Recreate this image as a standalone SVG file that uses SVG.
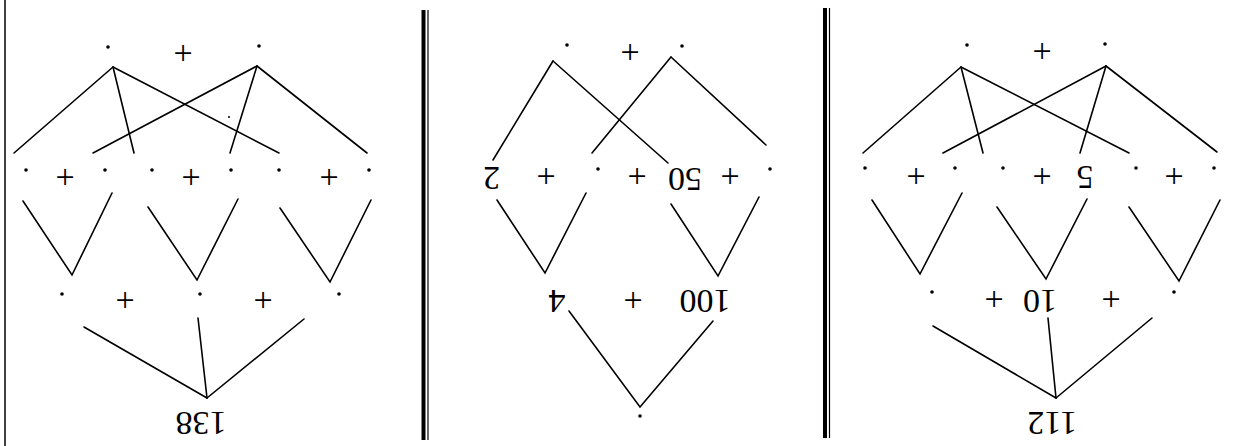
<svg xmlns="http://www.w3.org/2000/svg" width="1236" height="446" viewBox="0 0 1236 446">
<style>
  .e{stroke:#000;stroke-width:1.6;fill:none;stroke-linecap:round}
  .t{font-family:"Liberation Serif","Times New Roman",serif;font-size:34px;fill:#000;text-anchor:middle}
  .d{fill:#000}
</style>
<rect width="1236" height="446" fill="#fff"/>
<g id="borders">
  <line x1="5" y1="0" x2="5" y2="446" stroke="#000" stroke-width="1.5"/>
  <line x1="423.5" y1="10" x2="423.5" y2="440" stroke="#000" stroke-width="4"/>
  <line x1="428" y1="10" x2="428" y2="440" stroke="#000" stroke-width="1.2"/>
  <line x1="825" y1="8" x2="825" y2="438" stroke="#000" stroke-width="4"/>
  <line x1="829.5" y1="8" x2="829.5" y2="438" stroke="#000" stroke-width="1.2"/>
</g>
<g id="connectors" class="e">
  <!-- panel 1 -->
  <line x1="113" y1="67" x2="14" y2="153"/>
  <line x1="113" y1="67" x2="134" y2="153"/>
  <line x1="113" y1="67" x2="279" y2="153"/>
  <line x1="257" y1="66" x2="93" y2="153"/>
  <line x1="257" y1="66" x2="230" y2="153"/>
  <line x1="257" y1="66" x2="367" y2="153"/>
  <polyline points="23,201 72,275 112,193"/>
  <polyline points="148,207 197,280 238,199"/>
  <polyline points="280,208 330,282 371,200"/>
  <line x1="84" y1="327" x2="207" y2="398"/>
  <line x1="198" y1="318" x2="207" y2="398"/>
  <line x1="304" y1="319" x2="207" y2="398"/>
  <!-- panel 2 -->
  <line x1="553" y1="61" x2="493" y2="160"/>
  <line x1="553" y1="61" x2="668" y2="163"/>
  <line x1="671" y1="57" x2="592" y2="153"/>
  <line x1="671" y1="57" x2="766" y2="145"/>
  <polyline points="497,200 545,273 586,193"/>
  <polyline points="671,204 718,276 759,197"/>
  <polyline points="569,311 640,407 713,321"/>
  <!-- panel 3 -->
  <line x1="961" y1="67" x2="863" y2="153"/>
  <line x1="961" y1="67" x2="983" y2="153"/>
  <line x1="961" y1="67" x2="1129" y2="153"/>
  <line x1="1106" y1="66" x2="943" y2="153"/>
  <line x1="1106" y1="66" x2="1080" y2="153"/>
  <line x1="1106" y1="66" x2="1217" y2="152"/>
  <polyline points="872,200 920,274 962,193"/>
  <polyline points="997,207 1046,279 1087,199"/>
  <polyline points="1129,207 1179,281 1220,200"/>
  <line x1="933" y1="326" x2="1056" y2="398"/>
  <line x1="1048" y1="318" x2="1056" y2="398"/>
  <line x1="1152" y1="318" x2="1056" y2="398"/>
</g>
<g id="panel1">
  <g class="d">
    <circle cx="108" cy="47" r="1.8"/><circle cx="259" cy="46" r="1.8"/>
    <circle cx="26" cy="170" r="1.8"/><circle cx="105" cy="170" r="1.8"/><circle cx="152" cy="170" r="1.8"/>
    <circle cx="231" cy="170" r="1.8"/><circle cx="279" cy="170" r="1.8"/><circle cx="369" cy="170" r="1.8"/>
    <circle cx="62" cy="294" r="1.8"/><circle cx="200" cy="294" r="1.8"/><circle cx="339" cy="294" r="1.8"/>
    <circle cx="229" cy="117" r="1"/>
  </g>
  <g class="t">
    <text x="183" y="64">+</text>
    <text x="65" y="188">+</text><text x="191" y="188">+</text><text x="329" y="188">+</text>
    <text x="125" y="311">+</text><text x="263" y="311">+</text>
    <text x="201" y="435" transform="rotate(180 201 423.5)">138</text>
  </g>
</g>
<g id="panel2">
  <g class="d">
    <circle cx="567" cy="45" r="1.8"/><circle cx="682" cy="46" r="1.8"/>
    <circle cx="598" cy="169" r="1.8"/><circle cx="770" cy="169" r="1.8"/>
    <circle cx="640" cy="416" r="1.8"/>
  </g>
  <g class="t">
    <text x="630" y="63">+</text>
    <text x="546" y="187">+</text><text x="637" y="187">+</text><text x="730" y="187">+</text>
    <text x="633" y="311">+</text>
    <text x="491.5" y="189.5" transform="rotate(180 491.5 178)">2</text>
    <text x="685" y="190.5" transform="rotate(180 685 179)">50</text>
    <text x="557" y="312.5" transform="rotate(180 557 301)">4</text>
    <text x="705" y="312.5" transform="rotate(180 705 301)">100</text>
  </g>
</g>
<g id="panel3">
  <g class="d">
    <circle cx="967" cy="45" r="1.8"/><circle cx="1105" cy="44" r="1.8"/>
    <circle cx="865" cy="168" r="1.8"/><circle cx="955" cy="168" r="1.8"/><circle cx="1003" cy="168" r="1.8"/>
    <circle cx="1136" cy="168" r="1.8"/><circle cx="1214" cy="168" r="1.8"/>
    <circle cx="932" cy="292" r="1.8"/><circle cx="1174" cy="292" r="1.8"/>
  </g>
  <g class="t">
    <text x="1042" y="62">+</text>
    <text x="916" y="187">+</text><text x="1042" y="187">+</text><text x="1174" y="187">+</text>
    <text x="994" y="310">+</text><text x="1111" y="310">+</text>
    <text x="1085" y="189" transform="rotate(180 1085 177.5)">5</text>
    <text x="1040" y="312.5" transform="rotate(180 1040 301)">10</text>
    <text x="1052" y="434.5" transform="rotate(180 1052 423)">112</text>
  </g>
</g>
</svg>
